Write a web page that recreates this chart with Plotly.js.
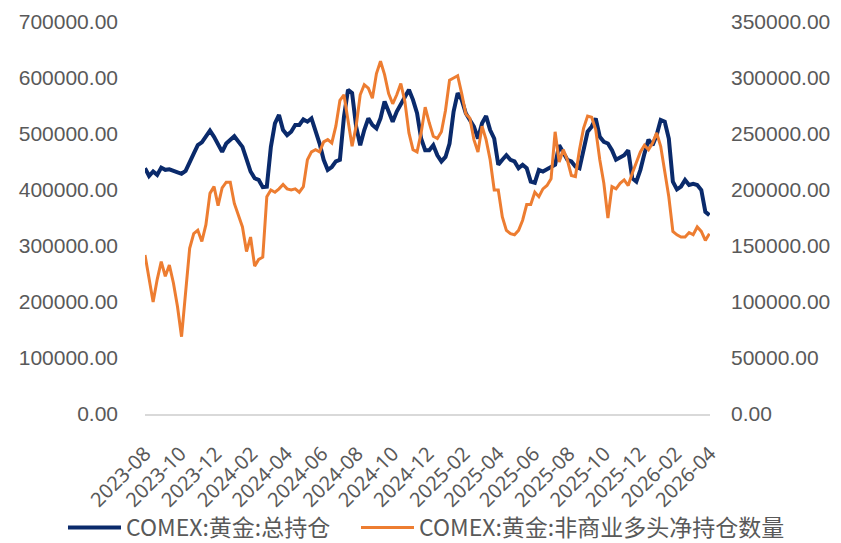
<!DOCTYPE html>
<html>
<head>
<meta charset="utf-8">
<script src="https://cdn.plot.ly/plotly-3.0.1.min.js"></script>
<style>
html,body{margin:0;padding:0;background:#fff;}
#chart{width:841px;height:543px;}
</style>
</head>
<body>
<div id="chart"></div>
<script>
// Weekly report dates (Tuesdays)
const weeks = [
'2023-08-01','2023-08-08','2023-08-15','2023-08-22','2023-08-29',
'2023-09-05','2023-09-12','2023-09-19','2023-09-26',
'2023-10-03','2023-10-10','2023-10-17','2023-10-24','2023-10-31',
'2023-11-07','2023-11-14','2023-11-21','2023-11-28',
'2023-12-05','2023-12-12','2023-12-19','2023-12-26',
'2024-01-02','2024-01-09','2024-01-16','2024-01-23','2024-01-30',
'2024-02-06','2024-02-13','2024-02-20','2024-02-27',
'2024-03-05','2024-03-12','2024-03-19','2024-03-26',
'2024-04-02','2024-04-09','2024-04-16','2024-04-23','2024-04-30',
'2024-05-07','2024-05-14','2024-05-21','2024-05-28',
'2024-06-04','2024-06-11','2024-06-18','2024-06-25',
'2024-07-02','2024-07-09','2024-07-16','2024-07-23','2024-07-30',
'2024-08-06','2024-08-13','2024-08-20','2024-08-27',
'2024-09-03','2024-09-10','2024-09-17','2024-09-24',
'2024-10-01','2024-10-08','2024-10-15','2024-10-22','2024-10-29',
'2024-11-05','2024-11-12','2024-11-19','2024-11-26',
'2024-12-03','2024-12-10','2024-12-17','2024-12-24','2024-12-31',
'2025-01-07','2025-01-14','2025-01-21','2025-01-28',
'2025-02-04','2025-02-11','2025-02-18','2025-02-25',
'2025-03-04','2025-03-11','2025-03-18','2025-03-25',
'2025-04-01','2025-04-08','2025-04-15','2025-04-22','2025-04-29',
'2025-05-06','2025-05-13','2025-05-20','2025-05-27',
'2025-06-03','2025-06-10','2025-06-17','2025-06-24',
'2025-07-01','2025-07-08','2025-07-15','2025-07-22','2025-07-29',
'2025-08-05','2025-08-12','2025-08-19','2025-08-26',
'2025-09-02','2025-09-09','2025-09-16','2025-09-23','2025-09-30',
'2025-10-07','2025-10-14','2025-10-21','2025-10-28',
'2025-11-04','2025-11-11','2025-11-18','2025-11-25',
'2025-12-02','2025-12-09','2025-12-16','2025-12-23','2025-12-30',
'2026-01-06','2026-01-13','2026-01-20','2026-01-27',
'2026-02-03','2026-02-10','2026-02-17','2026-02-24',
'2026-03-03','2026-03-10','2026-03-17','2026-03-24','2026-03-31'
];

// COMEX 黄金 总持仓 (left axis)
const totalOI = [
439000,425000,433000,427000,440000,436000,437000,434000,null,429000,
434000,448000,465000,480000,485000,null,506000,495000,null,468000,
483000,null,496000,486000,477000,455000,433000,421000,418000,405000,
406000,477000,519000,534000,507000,498000,504000,516000,516000,526000,
522000,528000,null,483000,454000,436000,441000,451000,454000,531000,
579000,573000,513000,480000,507000,528000,516000,510000,528000,558000,
540000,522000,540000,null,567000,579000,561000,537000,492000,471000,
471000,480000,462000,451000,459000,483000,540000,573000,561000,537000,
525000,513000,492000,519000,532000,507000,492000,445000,454000,462000,
454000,451000,439000,445000,439000,415000,413000,436000,433000,437000,
442000,445000,480000,468000,454000,451000,442000,439000,471000,504000,
513000,528000,495000,486000,483000,471000,454000,null,462000,471000,
421000,415000,436000,465000,490000,480000,498000,525000,522000,492000,
415000,401000,406000,418000,409000,411000,409000,400000,361000,355000
];

// COMEX 黄金 非商业多头净持仓 (right axis)
const netLong = [
142000,null,100000,120000,136000,123000,133000,117000,96000,69000,
108000,148000,161000,164000,154000,169000,197000,203000,186000,202000,
207000,207000,188000,178000,167000,145000,158000,132000,138000,140000,
194000,200000,198000,201000,205000,201000,200000,201000,198000,203000,
227000,234000,236000,234000,243000,245000,242000,257000,280000,285000,
260000,239000,257000,285000,294000,291000,282000,304000,315000,303000,
286000,277000,285000,295000,279000,251000,236000,234000,251000,274000,
260000,248000,246000,252000,271000,298000,300000,302000,286000,268000,
264000,245000,234000,257000,245000,227000,200000,200000,176000,164000,
161000,160000,164000,173000,187000,187000,198000,194000,201000,204000,
210000,252000,225000,236000,227000,213000,212000,236000,255000,266000,
265000,254000,227000,206000,175000,203000,201000,206000,209000,204000,
215000,225000,234000,240000,236000,242000,251000,239000,218000,194000,
163000,160000,158000,158000,162000,160000,167000,163000,155000,161000
];

const seriesNames = ['COMEX:黄金:总持仓', 'COMEX:黄金:非商业多头净持仓数量'];

const tickFont = {family: 'Liberation Sans, Arial, sans-serif', size: 21, color: '#595959'};
const legendFont = {family: 'Noto Sans CJK SC, sans-serif', size: 23, color: '#595959'};

const traces = [
  {
    x: weeks, y: totalOI, name: seriesNames[0], type: 'scatter', mode: 'lines',
    connectgaps: true, line: {color: '#0A2A6B', width: 4}, yaxis: 'y', legend: 'legend'
  },
  {
    x: weeks, y: netLong, name: seriesNames[1], type: 'scatter', mode: 'lines',
    connectgaps: true, line: {color: '#ED7D31', width: 3}, yaxis: 'y2', legend: 'legend2'
  }
];

const layout = {
  width: 841, height: 543,
  margin: {l: 145, r: 131, t: 22, b: 129, pad: 0},
  paper_bgcolor: '#ffffff', plot_bgcolor: '#ffffff',
  showlegend: true,
  xaxis: {
    type: 'date', automargin: false,
    range: ['2023-08-01', '2026-04-01'],
    tick0: '2023-08-01', dtick: 'M2', tickformat: '%Y-%m',
    tickangle: -45,
    tickfont: {family: 'Noto Sans, Liberation Sans, sans-serif', size: 20, color: '#595959'},
    showgrid: false, zeroline: false,
    showline: true, linecolor: '#d9d9d9', linewidth: 2,
    ticks: '', ticklabelstandoff: 18
  },
  yaxis: {
    automargin: false,
    range: [0, 700000], dtick: 100000, tickformat: '.2f',
    tickfont: tickFont, showgrid: false, zeroline: false, showline: false,
    ticks: '', ticklabelstandoff: 26
  },
  yaxis2: {
    automargin: false,
    range: [0, 350000], dtick: 50000, tickformat: '.2f',
    overlaying: 'y', side: 'right',
    tickfont: tickFont, showgrid: false, zeroline: false, showline: false,
    ticks: '', ticklabelstandoff: 20
  },
  legend: {
    orientation: 'h', xref: 'container', yref: 'container',
    x: 0.0749, xanchor: 'left', y: 0.0285, yanchor: 'middle',
    itemwidth: 53,
    font: legendFont, bgcolor: 'rgba(0,0,0,0)'
  },
  legend2: {
    orientation: 'h', xref: 'container', yref: 'container',
    x: 0.4233, xanchor: 'left', y: 0.0285, yanchor: 'middle',
    itemwidth: 53,
    font: legendFont, bgcolor: 'rgba(0,0,0,0)'
  }
};

Plotly.newPlot('chart', traces, layout, {displayModeBar: false, staticPlot: true});
</script>
</body>
</html>
